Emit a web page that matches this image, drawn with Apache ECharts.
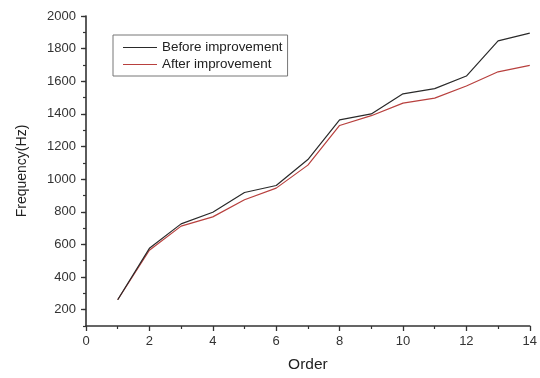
<!DOCTYPE html>
<html>
<head>
<meta charset="utf-8">
<script src="https://cdn.jsdelivr.net/npm/echarts@6/dist/echarts.min.js"></script>
<style>
html,body{margin:0;padding:0;background:#fff;}
#chart{width:540px;height:378px;}
</style>
</head>
<body>
<div id="chart"></div>
<script>
var orders = [1,2,3,4,5,6,7,8,9,10,11,12,13,14];
var beforeValues = [261,576,726,797,918,961,1120,1363,1400,1523,1555,1632,1848,1895];
var afterValues  = [261,564,712,769,874,945,1086,1329,1389,1466,1497,1571,1658,1697];
var yTickLabels = [200,400,600,800,1000,1200,1400,1600,1800,2000];
var xTickLabels = [0,2,4,6,8,10,12,14];
var seriesNames = ['Before improvement','After improvement'];

function pairs(xs, ys){ return xs.map(function(x,i){ return [x, ys[i]]; }); }
function plain(v){ return String(v); }

var chart = echarts.init(document.getElementById('chart'), null, {renderer:'canvas'});
var font = 'Liberation Sans, Arial, sans-serif';
var lineIcon = 'path://M0,0H34V1.2H0Z';
chart.setOption({
  animation:false,
  backgroundColor:'#fff',
  grid:{left:86,right:6,top:16,bottom:48},
  legend:{
    left:113, top:35, orient:'vertical',
    data:[{name:seriesNames[0],icon:lineIcon},{name:seriesNames[1],icon:lineIcon}],
    borderColor:'#777', borderWidth:1,
    padding:[6,5,5,10], itemGap:4,
    itemWidth:34, itemHeight:14,
    textStyle:{fontFamily:font,fontSize:13.4,color:'#222'}
  },
  xAxis:{
    type:'value', min:0, max:14, interval:2,
    name:'Order', nameLocation:'middle', nameGap:31,
    nameTextStyle:{fontFamily:font,fontSize:15.5,color:'#222'},
    axisLine:{lineStyle:{color:'#333',width:1.6}},
    axisTick:{show:true,inside:false,length:5,lineStyle:{color:'#333',width:1.3},customValues:xTickLabels},
    minorTick:{show:true,splitNumber:2,length:3,lineStyle:{color:'#333',width:1.2}},
    axisLabel:{fontFamily:font,fontSize:13,color:'#333',margin:9,customValues:xTickLabels,formatter:plain},
    splitLine:{show:false}
  },
  yAxis:[{
    type:'value', min:100, max:2000, interval:100,
    name:'Frequency(Hz)', nameLocation:'middle', nameGap:57,
    nameTextStyle:{fontFamily:font,fontSize:14,color:'#222'},
    axisLine:{show:true,lineStyle:{color:'#333',width:1.6}},
    axisTick:{show:true,length:5,lineStyle:{color:'#333',width:1.3},customValues:yTickLabels},
    axisLabel:{fontFamily:font,fontSize:13,color:'#333',margin:10,customValues:yTickLabels,formatter:plain},
    splitLine:{show:false}
  },{
    type:'value', min:100, max:2000, interval:100, position:'left', offset:0,
    axisLine:{show:false},
    axisTick:{show:true,length:3,lineStyle:{color:'#333',width:1.2}},
    axisLabel:{show:false},
    splitLine:{show:false}
  }],
  series:[{
    name:seriesNames[0], type:'line', symbol:'none',
    data:pairs(orders, beforeValues),
    lineStyle:{color:'#2a2a2a',width:1.2}, itemStyle:{color:'#2a2a2a'}, z:3
  },{
    name:seriesNames[1], type:'line', symbol:'none',
    data:pairs(orders, afterValues),
    lineStyle:{color:'#b8403e',width:1.2}, itemStyle:{color:'#b8403e'}, z:2
  }]
});
</script>
</body>
</html>
